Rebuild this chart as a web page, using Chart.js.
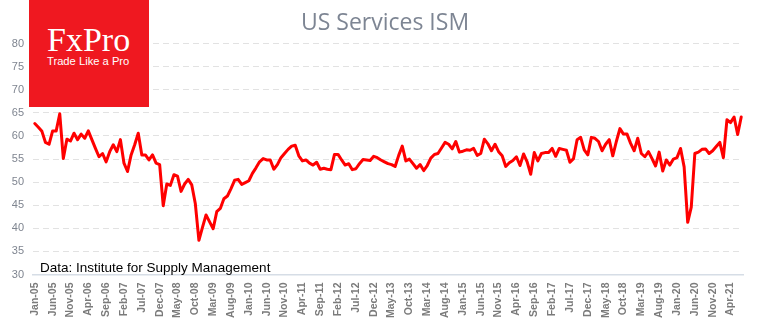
<!DOCTYPE html>
<html>
<head>
<meta charset="utf-8">
<script src="https://cdn.jsdelivr.net/npm/chart.js@4/dist/chart.umd.min.js"></script>
<style>
html,body{margin:0;padding:0;background:#fff;}
#wrap{position:relative;width:770px;height:330px;overflow:hidden;}
#c{position:absolute;left:0;top:0;}
.logo{position:absolute;left:29px;top:0;width:120px;height:107px;background:#ef1820;}
.brand{position:absolute;left:18px;top:22.5px;font-family:'Liberation Serif','DejaVu Serif',serif;font-size:34px;line-height:34px;color:#fff;white-space:nowrap;}
.slogan{position:absolute;left:18px;top:56.2px;font-family:'Liberation Sans',Arial,sans-serif;font-size:11.2px;line-height:11.2px;color:#fff;white-space:nowrap;}
.note{position:absolute;left:40px;top:261.3px;font-family:'Liberation Sans',Arial,sans-serif;font-size:13.5px;line-height:13.5px;color:#000;white-space:nowrap;}
</style>
</head>
<body>
<div id="wrap">
<canvas id="c" width="770" height="330"></canvas>
<div class="logo"><div class="brand">FxPro</div><div class="slogan">Trade Like a Pro</div></div>
<div class="note">Data: Institute for Supply Management</div>
</div>
<script>
// ---- data ----
const monthNames = ['Jan','Feb','Mar','Apr','May','Jun','Jul','Aug','Sep','Oct','Nov','Dec'];
const startYear = 2005;
const ismValues = [
62.7,61.9,61.0,58.6,58.2,61.1,61.1,64.8,55.1,59.3,58.9,60.6,
59.2,60.4,59.5,61.1,59.2,57.3,55.5,56.2,54.4,56.6,58.1,56.6,
59.2,54.1,52.3,55.9,58.1,60.6,55.9,55.9,54.8,55.9,54.1,53.8,
44.9,49.6,49.3,51.6,51.3,48.0,49.6,50.6,49.4,45.3,37.4,40.2,
42.9,41.4,39.9,43.6,44.3,46.4,47.0,48.6,50.4,50.6,49.5,49.9,
50.3,51.9,53.1,54.4,55.1,54.8,54.8,52.8,53.8,55.3,56.2,57.1,
57.8,58.0,55.7,54.6,54.8,54.1,53.7,54.3,52.8,53.0,52.8,52.7,
56.0,56.0,54.8,53.7,54.0,52.7,52.9,54.0,54.9,54.8,54.7,55.6,
55.3,54.8,54.4,54.0,53.8,53.4,55.8,57.8,54.6,55.0,54.0,53.0,
53.8,52.5,53.6,55.2,56.0,56.2,57.4,58.6,58.2,57.2,58.8,56.5,
56.7,57.0,56.9,57.3,55.8,56.2,59.3,58.3,56.8,58.2,56.6,55.7,
53.4,54.2,54.7,55.5,53.6,56.1,54.4,51.7,56.4,54.6,56.2,56.4,
56.4,57.3,55.6,57.3,57.1,56.9,54.3,55.1,59.2,59.7,57.0,55.9,
59.7,59.5,58.8,56.8,58.2,59.2,55.7,58.8,61.6,60.4,60.4,58.4,
56.8,59.5,56.2,55.5,56.6,55.1,53.5,56.5,52.4,54.8,53.7,55.0,
55.3,57.3,53.3,41.3,44.6,56.2,56.5,57.1,57.2,56.2,56.8,57.7,
58.6,55.3,63.5,62.9,64.1,60.3,64.1
];
const tickLabels = ['Jan-05','Jun-05','Nov-05','Apr-06','Sep-06','Feb-07','Jul-07','Dec-07','May-08','Oct-08',
'Mar-09','Aug-09','Jan-10','Jun-10','Nov-10','Apr-11','Sep-11','Feb-12','Jul-12','Dec-12',
'May-13','Oct-13','Mar-14','Aug-14','Jan-15','Jun-15','Nov-15','Apr-16','Sep-16','Feb-17',
'Jul-17','Dec-17','May-18','Oct-18','Mar-19','Aug-19','Jan-20','Jun-20','Nov-20','Apr-21'];
const yTicks = [30,35,40,45,50,55,60,65,70,75,80];

const categories = [];
for (let i = 0; i < ismValues.length; i++) {
  const y = startYear + Math.floor(i / 12);
  categories.push(monthNames[i % 12] + '-' + String(y).slice(2));
}

new Chart(document.getElementById('c'), {
  type: 'line',
  data: {
    labels: categories,
    datasets: [{
      data: ismValues,
      borderColor: '#ff0000',
      borderWidth: 3,
      pointRadius: 0,
      tension: 0,
      fill: false,
      borderJoinStyle: 'round',
      borderCapStyle: 'round',
      yAxisID: 'y'
    }]
  },
  options: {
    responsive: false,
    animation: false,
    devicePixelRatio: 1,
    layout: { padding: { left: 0, right: 0, top: 0, bottom: 0 } },
    plugins: {
      legend: { display: false },
      tooltip: { enabled: false },
      title: {
        display: true,
        text: 'US Services ISM',
        color: '#7d8593',
        font: { family: 'Open Sans', size: 23, weight: 'normal', lineHeight: 1.2 },
        padding: { top: 10, bottom: 6 }
      }
    },
    scales: {
      x: {
        type: 'category',
        offset: true,
        grid: { display: false, drawTicks: false },
        border: { display: true, color: '#d6dde6', width: 1.5 },
        ticks: {
          autoSkip: false,
          maxRotation: 90,
          minRotation: 90,
          padding: 8,
          color: '#7b7b7b',
          font: { family: 'Liberation Sans', size: 10.5, weight: 'bold' },
          callback: function (v, i) {
            const l = categories[i];
            return tickLabels.includes(l) ? l : '';
          }
        },
        afterFit: function (s) { s.height = 55.5; }
      },
      y: {
        min: yTicks[0],
        max: yTicks[yTicks.length - 1],
        afterBuildTicks: function (s) { s.ticks = yTicks.map(v => ({ value: v })); },
        ticks: {
          padding: 9,
          color: '#7f8590',
          font: { family: 'Liberation Sans', size: 11 }
        },
        grid: { color: '#e2e2e2', drawTicks: false, lineWidth: 1 },
        border: { display: false, dash: [6, 4] },
        afterFit: function (s) { s.width = 33; }
      },
      yRight: {
        position: 'right',
        min: yTicks[0],
        max: yTicks[yTicks.length - 1],
        grid: { display: false, drawTicks: false },
        border: { display: false },
        ticks: { display: false },
        afterFit: function (s) { s.width = 27; }
      }
    }
  }
});
</script>
</body>
</html>
